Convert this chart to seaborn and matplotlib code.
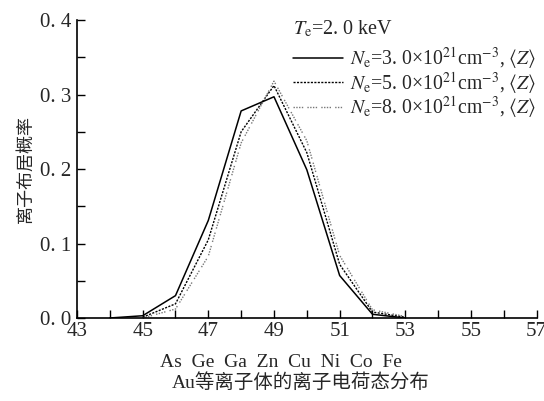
import matplotlib
matplotlib.use("Agg")
import matplotlib.pyplot as plt
import seaborn as sns
import pandas as pd

charge_a = [44, 45, 46, 47, 48, 49, 50, 51, 52, 53]
prob_a = [0.0, 0.003, 0.030, 0.131, 0.278, 0.297, 0.199, 0.057, 0.005, 0.0]
charge_b = [45, 46, 47, 48, 49, 50, 51, 52, 53]
prob_b = [0.001, 0.019, 0.105, 0.250, 0.312, 0.222, 0.072, 0.008, 0.001]
charge_c = [45, 46, 47, 48, 49, 50, 51, 52, 53]
prob_c = [0.0, 0.012, 0.083, 0.235, 0.318, 0.238, 0.084, 0.011, 0.002]

labels = [r"$N_\mathrm{e}$=3. 0×10$^{21}$cm$^{-3}$, $\langle Z\rangle$",
          r"$N_\mathrm{e}$=5. 0×10$^{21}$cm$^{-3}$, $\langle Z\rangle$",
          r"$N_\mathrm{e}$=8. 0×10$^{21}$cm$^{-3}$, $\langle Z\rangle$"]
legend_title = r"$T_\mathrm{e}$=2. 0 keV"
xticks = [43, 45, 47, 49, 51, 53, 55, 57]
yticks = [0.0, 0.1, 0.2, 0.3, 0.4]
ytick_labels = ["0. 0", "0. 1", "0. 2", "0. 3", "0. 4"]
elements = "As  Ge  Ga  Zn  Cu  Ni  Co  Fe"
xlabel = "Au等离子体的离子电荷态分布"
ylabel = "离子布居概率"

sns.set_style("ticks")
plt.rcParams['font.family'] = ['Liberation Serif', 'Noto Sans CJK SC', 'DejaVu Serif']
plt.rcParams['mathtext.fontset'] = 'stix'
plt.rcParams['xtick.direction'] = 'in'
plt.rcParams['ytick.direction'] = 'in'

fig = plt.figure(figsize=(5.44, 4.01), dpi=100)
ax = fig.add_axes([0.1415, 0.207, 0.845, 0.743])

df_a = pd.DataFrame({"x": charge_a, "y": prob_a})
df_b = pd.DataFrame({"x": charge_b, "y": prob_b})
df_c = pd.DataFrame({"x": charge_c, "y": prob_c})

sns.lineplot(data=df_a, x="x", y="y", ax=ax, color="black", lw=1.1,
             linestyle="-", label=labels[0])
sns.lineplot(data=df_b, x="x", y="y", ax=ax, color="black", lw=1.0,
             linestyle=(0, (1.5, 1.0)), label=labels[1])
sns.lineplot(data=df_c, x="x", y="y", ax=ax, color="#777777", lw=1.0,
             linestyle=(0, (1, 1, 1, 1, 1, 1, 1, 3)), label=labels[2])

ax.set_xlim(43, 57)
ax.set_ylim(0, 0.4)
ax.set_xticks(xticks)
ax.set_xticks(range(43, 58), minor=True)
ax.set_yticks(yticks)
ax.set_yticklabels(ytick_labels)
ax.set_yticks([0.05, 0.15, 0.25, 0.35], minor=True)
ax.tick_params(which='both', length=6, width=1.0, labelsize=15, color='black')
ax.tick_params(axis='x', pad=3)
ax.tick_params(axis='y', pad=4)
for s in ['top', 'right']:
    ax.spines[s].set_visible(False)
for s in ['left', 'bottom']:
    ax.spines[s].set_linewidth(1.2)
    ax.spines[s].set_color('black')

ax.set_xlabel("")
ax.set_ylabel(ylabel, fontsize=13, family=['Noto Sans CJK SC'], labelpad=4)
fig.text(0.517, 0.097, elements, ha='center', va='center', fontsize=14)
fig.text(0.553, 0.045, xlabel, ha='center', va='center', fontsize=14,
         family=['Liberation Serif', 'Noto Sans CJK SC'])

leg = ax.legend(title=legend_title, loc='upper right', frameon=False,
                fontsize=14.2, title_fontsize=14.5, alignment='left',
                handlelength=2.5, handletextpad=0.35, labelspacing=-0.08,
                borderaxespad=0.0, bbox_to_anchor=(1.015, 1.03))
leg._legend_box.sep = 4

fig.savefig("out.png", dpi=100)
